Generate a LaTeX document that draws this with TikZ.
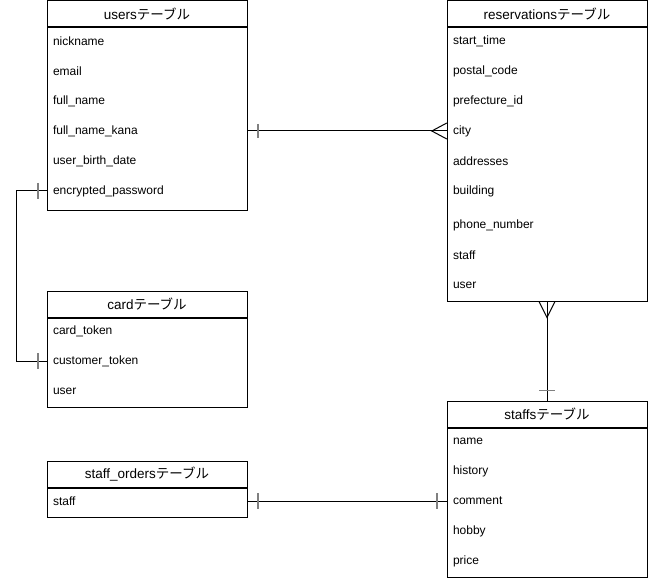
\documentclass[tikz,border=0pt]{standalone}
\usepackage{fontspec}
\setmainfont{Liberation Sans}
\newfontfamily\jp{Noto Sans CJK JP}
\usetikzlibrary{positioning}

\tikzset{
	hdr/.style={draw, line width=1pt, minimum width=200pt, minimum height=26pt, inner sep=0pt, font=\fontsize{13.5}{15}\selectfont},
	tblbody/.style={draw, line width=1pt, minimum width=200pt, inner sep=0pt},
	fld/.style={text width=188pt, inner xsep=6pt, inner ysep=2pt, align=left, yshift=-1pt, font=\fontsize{12}{14}\selectfont},
	rel/.style={line width=1pt},
	erbar/.style={line width=1.5pt, black!50},
}

\newcommand{\tblname}[1]{#1{\jp テーブル}}

\begin{document}
\begin{tikzpicture}[x=1pt, y=-1pt]
\useasboundingbox (0,0) rectangle (648,580);

\pgfmathsetmacro{\colL}{147}
\pgfmathsetmacro{\colR}{547}

% users
\node[hdr] (users) at (\colL,14) {\tblname{users}};
\node[tblbody, minimum height=183pt, below=0pt of users] (usersb) {};
\node[fld] (nickname) at (\colL,40) {nickname};
\node[fld] (email) at (\colL,70) {email};
\node[fld] (fullname) at (\colL,100) {full\_name};
\node[fld] (kana) at (\colL,130) {full\_name\_kana};
\node[fld] (birth) at (\colL,160) {user\_birth\_date};
\node[fld] (encpw) at (\colL,190) {encrypted\_password};

% card
\node[hdr] (card) at (\colL,304) {\tblname{card}};
\node[tblbody, minimum height=89pt, below=0pt of card] (cardb) {};
\node[fld] (cardtok) at (\colL,330) {card\_token};
\node[fld] (custtok) at (\colL,360) {customer\_token};
\node[fld] (card-user) at (\colL,390) {user};

% staff_orders
\node[hdr] (orders) at (\colL,474) {\tblname{staff\_orders}};
\node[tblbody, minimum height=29pt, below=0pt of orders] (ordersb) {};
\node[fld] (orders-staff) at (\colL,500) {staff};

% reservations
\node[hdr] (resv) at (\colR,14) {\tblname{reservations}};
\node[tblbody, minimum height=273pt, below=0pt of resv] (resvb) {};
\node[fld] (start) at (\colR,40) {start\_time};
\node[fld] (postal) at (\colR,70) {postal\_code};
\node[fld] (pref) at (\colR,100) {prefecture\_id};
\node[fld] (city) at (\colR,130) {city};
\node[fld] (addr) at (\colR,160) {addresses};
\node[fld] (bldg) at (\colR,190) {building};
\node[fld] (phone) at (\colR,224) {phone\_number};
\node[fld] (resv-staff) at (\colR,254) {staff};
\node[fld] (resv-user) at (\colR,284) {user};

% staffs
\node[hdr] (staffs) at (\colR,414) {\tblname{staffs}};
\node[tblbody, minimum height=149pt, below=0pt of staffs] (staffsb) {};
\node[fld] (sname) at (\colR,440) {name};
\node[fld] (history) at (\colR,470) {history};
\node[fld] (comment) at (\colR,500) {comment};
\node[fld] (hobby) at (\colR,530) {hobby};
\node[fld] (price) at (\colR,560) {price};

% users - reservations
\draw[rel] (kana.east) -- (city.west);
\draw[erbar] ([xshift=11pt]kana.east) ++(0,-7) -- ++(0,14);
\draw[rel] ([yshift=8pt]city.west) -- ([xshift=-15pt]city.west) -- ([yshift=-8pt]city.west);

% users - card
\draw[rel] (encpw.west) -- ++(-30,0) |- (custtok.west);
\draw[erbar] ([xshift=-9pt]encpw.west) ++(0,-8) -- ++(0,16);
\draw[erbar] ([xshift=-9pt]custtok.west) ++(0,-8) -- ++(0,16);

% reservations - staffs
\draw[rel] (resvb.south) -- (staffs.north);
\draw[rel] ([xshift=-8pt]resvb.south) -- ([yshift=-16pt]resvb.south) -- ([xshift=8pt]resvb.south);
\draw[erbar] ([yshift=10pt]staffs.north) ++(-8,0) -- ++(16,0);

% staff_orders - staffs
\draw[rel] (orders-staff.east) -- (comment.west);
\draw[erbar] ([xshift=11pt]orders-staff.east) ++(0,-8) -- ++(0,16);
\draw[erbar] ([xshift=-10pt]comment.west) ++(0,-8) -- ++(0,16);
\end{tikzpicture}
\end{document}
